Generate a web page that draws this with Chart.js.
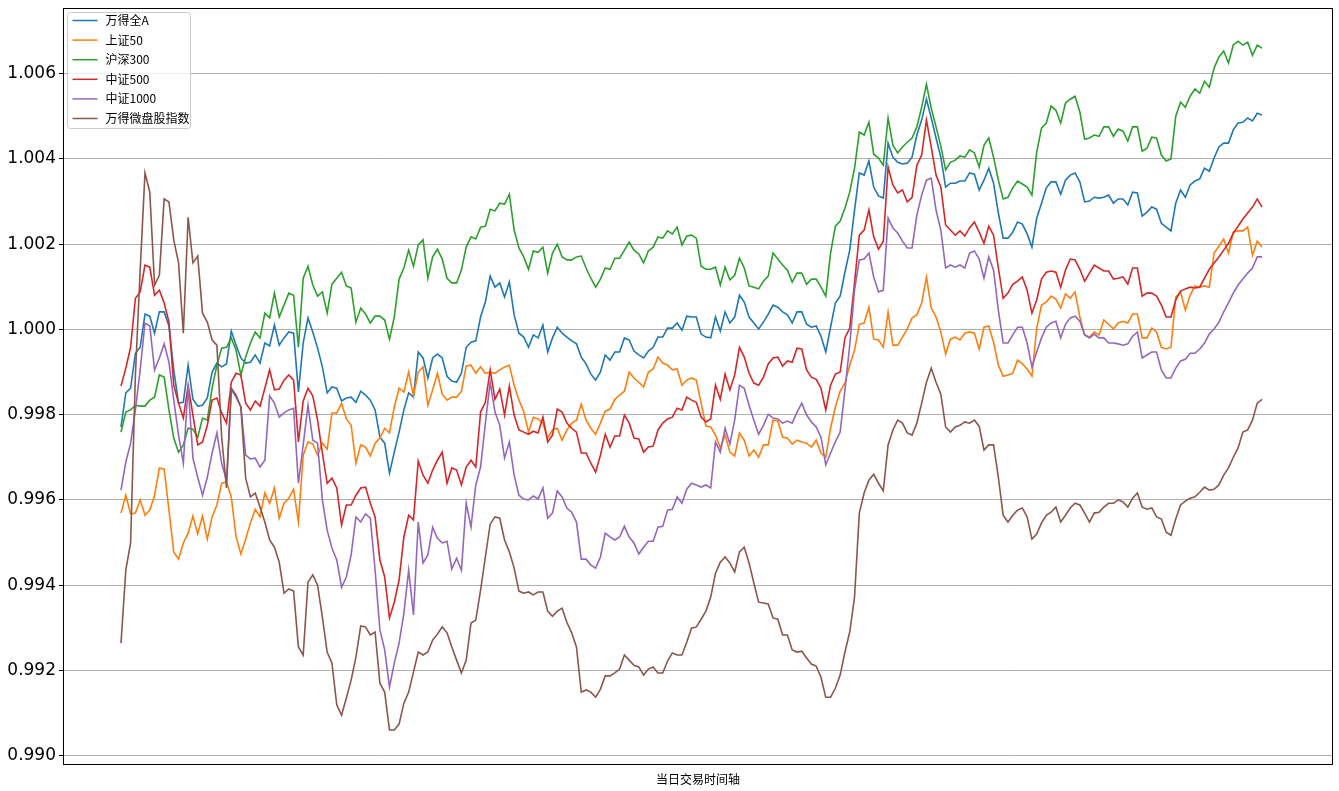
<!DOCTYPE html>
<html>
<head>
<meta charset="utf-8">
<script src="https://cdn.jsdelivr.net/npm/chart.js@4.4.1/dist/chart.umd.min.js"></script>
<style>
  html, body { margin: 0; padding: 0; background: #fff; }
  #wrap { width: 1339px; height: 791px; }
</style>
</head>
<body>
<div id="wrap"><canvas id="chart" width="1339" height="791"></canvas></div>
<script>
// one value per trading minute, index = minute of the session
const seriesNames = ["万得全A", "上证50", "沪深300", "中证500", "中证1000", "万得微盘股指数"];
const seriesColors = ["#1f77b4", "#ff7f0e", "#2ca02c", "#d62728", "#9467bd", "#8c564b"];
const yTicks = [0.990, 0.992, 0.994, 0.996, 0.998, 1.000, 1.002, 1.004, 1.006];

const quanA = [
  0.99771,0.99851,0.99862,0.99944,0.99958,1.00036,1.00031,0.99991,1.00041,1.00041,
  1.00008,0.99905,0.99827,0.99829,0.99916,0.99836,0.99820,0.99822,0.99839,0.99900,
  0.99921,0.99912,0.99919,0.99996,0.99963,0.99933,0.99921,0.99923,0.99940,0.99921,
  0.99968,0.99961,1.00010,0.99963,0.99980,0.99994,0.99991,0.99853,0.99968,1.00027,
  0.99994,0.99956,0.99912,0.99851,0.99865,0.99862,0.99832,0.99839,0.99841,0.99829,
  0.99855,0.99846,0.99834,0.99811,0.99747,0.99733,0.99663,0.99712,0.99759,0.99811,
  0.99851,0.99841,0.99947,0.99933,0.99886,0.99933,0.99942,0.99933,0.99890,0.99879,
  0.99876,0.99897,0.99958,0.99970,0.99973,1.00029,1.00064,1.00125,1.00099,1.00109,
  1.00076,1.00111,1.00034,0.99991,0.99982,0.99958,0.99987,0.99980,1.00010,0.99947,
  0.99980,1.00005,0.99991,0.99982,0.99973,0.99966,0.99935,0.99919,0.99895,0.99881,
  0.99900,0.99940,0.99928,0.99947,0.99947,0.99980,0.99975,0.99949,0.99940,0.99933,
  0.99949,0.99958,0.99982,0.99982,1.00003,1.00003,1.00015,0.99998,1.00031,1.00029,
  1.00029,0.99989,0.99982,0.99980,1.00029,0.99996,1.00041,1.00015,1.00029,1.00080,
  1.00064,1.00029,1.00015,1.00001,1.00017,1.00036,1.00057,1.00052,1.00041,1.00034,
  1.00015,1.00041,1.00041,1.00012,1.00005,1.00008,0.99984,0.99947,1.00005,1.00062,
  1.00078,1.00134,1.00186,1.00280,1.00367,1.00362,1.00395,1.00334,1.00313,1.00308,
  1.00437,1.00404,1.00392,1.00388,1.00390,1.00404,1.00456,1.00491,1.00540,1.00496,
  1.00449,1.00404,1.00334,1.00343,1.00343,1.00348,1.00348,1.00367,1.00364,1.00327,
  1.00350,1.00378,1.00343,1.00273,1.00214,1.00214,1.00228,1.00252,1.00247,1.00224,
  1.00193,1.00261,1.00296,1.00332,1.00346,1.00346,1.00317,1.00350,1.00362,1.00367,
  1.00346,1.00299,1.00301,1.00310,1.00308,1.00310,1.00315,1.00296,1.00306,1.00306,
  1.00292,1.00322,1.00320,1.00266,1.00275,1.00287,1.00282,1.00249,1.00240,1.00231,
  1.00296,1.00327,1.00310,1.00339,1.00348,1.00353,1.00378,1.00371,1.00402,1.00428,
  1.00437,1.00437,1.00468,1.00484,1.00486,1.00496,1.00489,1.00507,1.00503];

const sz50 = [
  0.99569,0.99611,0.99567,0.99569,0.99600,0.99564,0.99576,0.99611,0.99675,0.99672,
  0.99576,0.99478,0.99461,0.99499,0.99522,0.99562,0.99520,0.99562,0.99508,0.99560,
  0.99588,0.99639,0.99642,0.99607,0.99513,0.99473,0.99508,0.99546,0.99578,0.99560,
  0.99616,0.99592,0.99628,0.99557,0.99592,0.99604,0.99625,0.99548,0.99705,0.99736,
  0.99731,0.99705,0.99733,0.99719,0.99804,0.99804,0.99827,0.99790,0.99775,0.99686,
  0.99729,0.99724,0.99703,0.99733,0.99745,0.99768,0.99757,0.99818,0.99862,0.99853,
  0.99900,0.99844,0.99900,0.99912,0.99822,0.99858,0.99897,0.99848,0.99834,0.99841,
  0.99841,0.99855,0.99914,0.99916,0.99897,0.99912,0.99897,0.99900,0.99897,0.99905,
  0.99912,0.99916,0.99869,0.99834,0.99808,0.99759,0.99794,0.99790,0.99780,0.99745,
  0.99764,0.99768,0.99740,0.99764,0.99780,0.99787,0.99825,0.99787,0.99768,0.99754,
  0.99780,0.99808,0.99813,0.99836,0.99846,0.99855,0.99900,0.99886,0.99876,0.99865,
  0.99900,0.99907,0.99935,0.99921,0.99916,0.99905,0.99907,0.99869,0.99881,0.99886,
  0.99881,0.99827,0.99773,0.99771,0.99752,0.99722,0.99752,0.99712,0.99703,0.99757,
  0.99740,0.99703,0.99717,0.99700,0.99729,0.99729,0.99787,0.99785,0.99747,0.99745,
  0.99731,0.99740,0.99736,0.99733,0.99724,0.99740,0.99710,0.99700,0.99768,0.99818,
  0.99855,0.99874,0.99916,0.99951,1.00012,1.00015,1.00052,0.99977,0.99975,0.99958,
  1.00041,0.99963,0.99963,0.99982,1.00001,1.00027,1.00034,1.00062,1.00123,1.00050,
  1.00029,0.99994,0.99942,0.99977,0.99982,0.99975,0.99991,0.99994,0.99991,0.99954,
  1.00005,1.00008,0.99970,0.99916,0.99890,0.99893,0.99897,0.99928,0.99919,0.99907,
  0.99890,1.00003,1.00057,1.00064,1.00078,1.00071,1.00050,1.00083,1.00073,1.00088,
  1.00029,0.99987,0.99982,0.99994,0.99987,1.00022,1.00012,1.00001,1.00015,1.00019,
  1.00015,1.00036,1.00036,0.99980,0.99980,1.00003,0.99994,0.99958,0.99954,0.99958,
  1.00076,1.00088,1.00045,1.00080,1.00102,1.00099,1.00102,1.00099,1.00179,1.00195,
  1.00212,1.00179,1.00228,1.00231,1.00231,1.00240,1.00174,1.00207,1.00193];

const hs300 = [
  0.99759,0.99806,0.99811,0.99822,0.99820,0.99820,0.99834,0.99841,0.99893,0.99888,
  0.99811,0.99745,0.99712,0.99729,0.99768,0.99766,0.99747,0.99792,0.99787,0.99862,
  0.99916,0.99956,0.99958,0.99980,0.99951,0.99893,0.99935,0.99968,0.99994,0.99980,
  1.00038,1.00027,1.00085,1.00029,1.00057,1.00085,1.00080,0.99958,1.00120,1.00148,
  1.00104,1.00078,1.00088,1.00038,1.00106,1.00120,1.00134,1.00102,1.00097,1.00017,
  1.00050,1.00036,1.00015,1.00031,1.00031,1.00022,0.99977,1.00029,1.00118,1.00144,
  1.00186,1.00148,1.00198,1.00210,1.00120,1.00170,1.00188,1.00165,1.00120,1.00109,
  1.00109,1.00139,1.00193,1.00217,1.00212,1.00240,1.00242,1.00282,1.00278,1.00296,
  1.00294,1.00317,1.00233,1.00191,1.00170,1.00141,1.00184,1.00181,1.00193,1.00132,
  1.00179,1.00200,1.00170,1.00163,1.00163,1.00170,1.00172,1.00144,1.00120,1.00099,
  1.00118,1.00144,1.00141,1.00167,1.00167,1.00186,1.00205,1.00186,1.00177,1.00156,
  1.00184,1.00193,1.00217,1.00214,1.00231,1.00224,1.00240,1.00198,1.00219,1.00221,
  1.00214,1.00148,1.00141,1.00141,1.00146,1.00104,1.00146,1.00116,1.00127,1.00167,
  1.00144,1.00102,1.00099,1.00095,1.00113,1.00125,1.00179,1.00165,1.00151,1.00139,
  1.00111,1.00132,1.00132,1.00106,1.00118,1.00118,1.00099,1.00078,1.00179,1.00242,
  1.00254,1.00285,1.00322,1.00378,1.00463,1.00456,1.00486,1.00411,1.00402,1.00385,
  1.00496,1.00432,1.00414,1.00428,1.00439,1.00449,1.00475,1.00521,1.00575,1.00519,
  1.00475,1.00430,1.00374,1.00392,1.00397,1.00407,1.00404,1.00421,1.00414,1.00381,
  1.00432,1.00449,1.00404,1.00350,1.00306,1.00310,1.00332,1.00348,1.00341,1.00334,
  1.00315,1.00416,1.00472,1.00484,1.00524,1.00514,1.00484,1.00531,1.00540,1.00547,
  1.00510,1.00446,1.00449,1.00456,1.00453,1.00475,1.00475,1.00453,1.00470,1.00465,
  1.00442,1.00475,1.00475,1.00418,1.00425,1.00451,1.00449,1.00409,1.00395,1.00400,
  1.00500,1.00533,1.00521,1.00547,1.00564,1.00554,1.00582,1.00568,1.00613,1.00639,
  1.00653,1.00625,1.00667,1.00676,1.00667,1.00674,1.00643,1.00667,1.00660];

const zz500 = [
  0.99867,0.99909,0.99958,1.00073,1.00088,1.00151,1.00146,1.00080,1.00092,1.00062,
  1.00017,0.99869,0.99827,0.99792,0.99869,0.99799,0.99729,0.99736,0.99775,0.99834,
  0.99839,0.99804,0.99780,0.99876,0.99897,0.99893,0.99827,0.99811,0.99832,0.99820,
  0.99862,0.99905,0.99858,0.99860,0.99881,0.99893,0.99881,0.99736,0.99832,0.99862,
  0.99844,0.99787,0.99710,0.99639,0.99651,0.99628,0.99541,0.99588,0.99588,0.99611,
  0.99628,0.99630,0.99592,0.99560,0.99459,0.99419,0.99323,0.99360,0.99412,0.99513,
  0.99564,0.99553,0.99691,0.99658,0.99639,0.99670,0.99693,0.99712,0.99639,0.99675,
  0.99670,0.99635,0.99677,0.99693,0.99677,0.99806,0.99829,0.99905,0.99836,0.99860,
  0.99799,0.99867,0.99799,0.99764,0.99759,0.99754,0.99761,0.99757,0.99794,0.99736,
  0.99752,0.99813,0.99806,0.99780,0.99768,0.99759,0.99710,0.99710,0.99686,0.99665,
  0.99705,0.99754,0.99724,0.99750,0.99750,0.99799,0.99780,0.99745,0.99743,0.99712,
  0.99724,0.99726,0.99764,0.99780,0.99790,0.99794,0.99815,0.99811,0.99841,0.99834,
  0.99829,0.99794,0.99783,0.99790,0.99869,0.99836,0.99895,0.99858,0.99893,0.99958,
  0.99935,0.99897,0.99874,0.99869,0.99888,0.99919,0.99933,0.99935,0.99914,0.99926,
  0.99923,0.99956,0.99954,0.99905,0.99888,0.99883,0.99862,0.99811,0.99869,0.99895,
  0.99900,0.99980,1.00003,1.00109,1.00221,1.00233,1.00280,1.00217,1.00188,1.00207,
  1.00381,1.00339,1.00320,1.00327,1.00299,1.00310,1.00385,1.00409,1.00491,1.00428,
  1.00362,1.00334,1.00245,1.00233,1.00221,1.00231,1.00219,1.00238,1.00252,1.00228,
  1.00202,1.00242,1.00221,1.00144,1.00073,1.00085,1.00106,1.00113,1.00123,1.00092,
  1.00038,1.00069,1.00118,1.00134,1.00137,1.00134,1.00099,1.00139,1.00165,1.00163,
  1.00141,1.00113,1.00132,1.00151,1.00144,1.00137,1.00137,1.00118,1.00120,1.00123,
  1.00106,1.00144,1.00144,1.00078,1.00085,1.00085,1.00078,1.00057,1.00029,1.00029,
  1.00069,1.00090,1.00095,1.00099,1.00097,1.00099,1.00120,1.00141,1.00156,1.00170,
  1.00186,1.00202,1.00226,1.00242,1.00259,1.00273,1.00287,1.00306,1.00287];

const zz1000 = [
  0.99623,0.99689,0.99733,0.99811,0.99905,1.00015,1.00008,0.99905,0.99933,0.99966,
  0.99923,0.99834,0.99752,0.99686,0.99869,0.99698,0.99653,0.99611,0.99653,0.99710,
  0.99757,0.99686,0.99646,0.99858,0.99841,0.99818,0.99705,0.99696,0.99698,0.99677,
  0.99693,0.99844,0.99827,0.99794,0.99804,0.99811,0.99815,0.99639,0.99729,0.99822,
  0.99740,0.99733,0.99600,0.99529,0.99487,0.99459,0.99395,0.99419,0.99471,0.99560,
  0.99548,0.99567,0.99557,0.99435,0.99295,0.99248,0.99161,0.99217,0.99264,0.99334,
  0.99435,0.99330,0.99548,0.99452,0.99471,0.99536,0.99510,0.99499,0.99503,0.99438,
  0.99463,0.99435,0.99592,0.99536,0.99635,0.99677,0.99780,0.99876,0.99806,0.99775,
  0.99698,0.99736,0.99658,0.99611,0.99602,0.99600,0.99609,0.99602,0.99628,0.99557,
  0.99569,0.99621,0.99607,0.99581,0.99571,0.99548,0.99461,0.99461,0.99447,0.99440,
  0.99466,0.99522,0.99513,0.99506,0.99513,0.99538,0.99513,0.99499,0.99473,0.99489,
  0.99503,0.99503,0.99536,0.99538,0.99576,0.99578,0.99607,0.99592,0.99625,0.99639,
  0.99635,0.99630,0.99635,0.99628,0.99736,0.99712,0.99768,0.99731,0.99787,0.99869,
  0.99862,0.99822,0.99787,0.99754,0.99775,0.99801,0.99792,0.99790,0.99780,0.99785,
  0.99780,0.99806,0.99827,0.99799,0.99783,0.99771,0.99747,0.99682,0.99710,0.99736,
  0.99759,0.99858,0.99963,1.00092,1.00163,1.00165,1.00179,1.00123,1.00088,1.00092,
  1.00261,1.00238,1.00226,1.00207,1.00191,1.00191,1.00268,1.00315,1.00350,1.00355,
  1.00280,1.00233,1.00144,1.00151,1.00146,1.00151,1.00144,1.00179,1.00184,1.00165,
  1.00120,1.00170,1.00139,1.00045,0.99968,0.99968,0.99987,1.00005,1.00005,0.99968,
  0.99912,0.99947,0.99980,1.00005,1.00015,1.00019,0.99980,1.00012,1.00027,1.00031,
  1.00019,0.99987,0.99980,0.99989,0.99980,0.99980,0.99968,0.99968,0.99966,0.99963,
  0.99966,0.99984,0.99994,0.99933,0.99940,0.99947,0.99947,0.99905,0.99886,0.99886,
  0.99909,0.99926,0.99930,0.99944,0.99944,0.99954,0.99968,0.99989,1.00001,1.00017,
  1.00041,1.00062,1.00085,1.00104,1.00118,1.00132,1.00144,1.00170,1.00170];

const weipan = [
  0.99264,0.99435,0.99499,0.99893,1.00139,1.00367,1.00322,1.00104,1.00127,1.00306,
  1.00299,1.00210,1.00156,0.99991,1.00263,1.00156,1.00172,1.00038,1.00017,0.99975,
  0.99963,0.99747,0.99628,0.99862,0.99846,0.99818,0.99651,0.99607,0.99616,0.99583,
  0.99548,0.99506,0.99489,0.99454,0.99381,0.99391,0.99386,0.99255,0.99236,0.99407,
  0.99424,0.99400,0.99325,0.99243,0.99217,0.99119,0.99095,0.99135,0.99177,0.99231,
  0.99304,0.99302,0.99283,0.99290,0.99170,0.99149,0.99060,0.99060,0.99074,0.99123,
  0.99149,0.99196,0.99243,0.99236,0.99243,0.99271,0.99285,0.99302,0.99288,0.99255,
  0.99224,0.99194,0.99224,0.99311,0.99318,0.99388,0.99466,0.99543,0.99560,0.99557,
  0.99506,0.99478,0.99440,0.99386,0.99381,0.99384,0.99377,0.99384,0.99384,0.99339,
  0.99327,0.99339,0.99346,0.99313,0.99288,0.99255,0.99149,0.99154,0.99149,0.99137,
  0.99156,0.99187,0.99187,0.99194,0.99203,0.99236,0.99224,0.99212,0.99208,0.99189,
  0.99203,0.99208,0.99194,0.99194,0.99222,0.99241,0.99236,0.99236,0.99266,0.99299,
  0.99302,0.99320,0.99339,0.99372,0.99428,0.99454,0.99466,0.99452,0.99431,0.99478,
  0.99489,0.99452,0.99405,0.99360,0.99358,0.99356,0.99323,0.99320,0.99283,0.99283,
  0.99248,0.99243,0.99245,0.99229,0.99215,0.99210,0.99184,0.99137,0.99137,0.99158,
  0.99189,0.99243,0.99290,0.99372,0.99569,0.99616,0.99646,0.99660,0.99639,0.99621,
  0.99729,0.99764,0.99787,0.99780,0.99757,0.99752,0.99780,0.99827,0.99876,0.99909,
  0.99876,0.99848,0.99771,0.99759,0.99771,0.99775,0.99783,0.99780,0.99787,0.99773,
  0.99717,0.99729,0.99729,0.99653,0.99564,0.99548,0.99564,0.99576,0.99581,0.99560,
  0.99508,0.99520,0.99546,0.99564,0.99571,0.99583,0.99548,0.99564,0.99581,0.99592,
  0.99588,0.99569,0.99548,0.99569,0.99571,0.99583,0.99592,0.99592,0.99600,0.99595,
  0.99583,0.99604,0.99616,0.99583,0.99578,0.99581,0.99560,0.99555,0.99524,0.99517,
  0.99555,0.99588,0.99597,0.99604,0.99607,0.99618,0.99630,0.99623,0.99625,0.99635,
  0.99658,0.99675,0.99700,0.99722,0.99759,0.99764,0.99787,0.99827,0.99836];

const allSeries = [quanA, sz50, hs300, zz500, zz1000, weipan];

// matplotlib-like box legend in the upper left corner
const boxLegend = {
  id: "boxLegend",
  afterDatasetsDraw(chart) {
    const ctx = chart.ctx;
    const area = chart.chartArea;
    const x0 = area.left + 4.5, y0 = area.top + 4.5;
    ctx.save();
    ctx.beginPath();
    ctx.roundRect(x0, y0, 123, 116, 3);
    ctx.fillStyle = "rgba(255,255,255,0.8)";
    ctx.fill();
    ctx.strokeStyle = "#cccccc";
    ctx.lineWidth = 1;
    ctx.stroke();
    ctx.font = "12px 'Noto Sans CJK SC'";
    ctx.textBaseline = "middle";
    seriesNames.forEach((name, i) => {
      const y = y0 + 8 + i * 19.6;
      ctx.strokeStyle = seriesColors[i];
      ctx.lineWidth = 1.5;
      ctx.beginPath();
      ctx.moveTo(x0 + 5, y);
      ctx.lineTo(x0 + 30, y);
      ctx.stroke();
      ctx.fillStyle = "#000";
      ctx.fillText(name, x0 + 38, y);
    });
    ctx.restore();
  }
};

// black frame round the plot area
const frame = {
  id: "frame",
  afterDraw(chart) {
    const a = chart.chartArea;
    const ctx = chart.ctx;
    ctx.save();
    ctx.strokeStyle = "#000";
    ctx.lineWidth = 1;
    ctx.strokeRect(a.left + 0.5, a.top + 0.5, a.right - a.left - 1, a.bottom - a.top - 1);
    ctx.restore();
  }
};

const datasets = allSeries.map((vals, i) => ({
  label: seriesNames[i],
  data: vals.map((v, k) => ({ x: k, y: v })),
  borderColor: seriesColors[i],
  backgroundColor: seriesColors[i],
  borderWidth: 1.6,
  pointRadius: 0,
  tension: 0,
  fill: false,
  order: allSeries.length - i
}));

new Chart(document.getElementById("chart"), {
  type: "line",
  data: { datasets },
  plugins: [boxLegend, frame],
  options: {
    responsive: false,
    animation: false,
    devicePixelRatio: 1,
    layout: { padding: { top: 8, right: 6, bottom: 4, left: 0 } },
    plugins: { legend: { display: false }, tooltip: { enabled: false } },
    scales: {
      x: {
        type: "linear",
        min: -12.1,
        max: 252.8,
        ticks: { display: false },
        grid: { display: false },
        border: { display: false },
        title: {
          display: true,
          text: "当日交易时间轴",
          color: "#000",
          font: { family: "'Noto Sans CJK SC'", size: 12 },
          padding: { top: 0, bottom: 0 }
        },
        afterFit: s => { s.height = 22; s.paddingLeft = 0; s.paddingRight = 0; }
      },
      y: {
        min: 0.98978,
        max: 1.00754,
        afterBuildTicks: s => { s.ticks = yTicks.map(v => ({ value: v })); },
        afterFit: s => { s.width = 63; s.paddingTop = 0; s.paddingBottom = 0; },
        ticks: {
          color: "#000",
          padding: 3,
          font: { family: "'DejaVu Sans'", size: 17 },
          callback: v => Number(v).toFixed(3)
        },
        grid: { color: "#b0b0b0", lineWidth: 1, tickColor: "#000", tickLength: 4 },
        border: { display: false }
      }
    }
  }
});
</script>
</body>
</html>
